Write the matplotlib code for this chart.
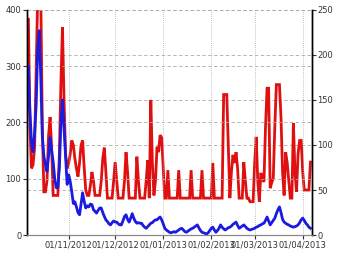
import numpy as np
import pandas as pd
import matplotlib
matplotlib.use('Agg')
import matplotlib.pyplot as plt
import matplotlib.dates as mdates

plt.rcParams['font.family'] = ['Liberation Sans Narrow', 'DejaVu Sans']

# daily values, 5 Oct 2012 onwards
start = '2012-10-05'

# blue series (left axis)
blue = [273, 300, 220, 165, 148, 180, 230, 330, 363, 280,
        175, 140, 125, 113, 140, 173, 150, 130, 100, 84,
        84, 120, 200, 240, 190, 140, 90, 107, 95, 77,
        56, 59, 50, 40, 36, 55, 75, 60, 48, 52,
        50, 55, 54, 45, 42, 39, 44, 48, 48, 40,
        33, 27, 24, 20, 18, 22, 25, 23, 23, 20,
        18, 18, 25, 33, 36, 28, 23, 30, 38, 30,
        24, 21, 22, 21, 21, 17, 14, 12, 15, 18,
        21, 22, 25, 27, 27, 30, 32, 27, 20, 12,
        9, 7, 5, 4, 5, 6, 5, 7, 9, 11,
        12, 9, 6, 5, 7, 9, 11, 12, 14, 16,
        18, 13, 8, 5, 4, 3, 2, 4, 8, 12,
        14, 9, 5, 8, 12, 18, 14, 11, 9, 11,
        13, 14, 16, 19, 21, 23, 17, 12, 14, 16,
        18, 15, 12, 10, 9, 10, 11, 12, 14, 15,
        17, 18, 20, 21, 26, 32, 25, 18, 22, 26,
        30, 38, 45, 50, 40, 28, 23, 21, 19, 18,
        16, 15, 14, 15, 16, 18, 22, 27, 30, 26,
        21, 18, 14, 12]

# red series (right axis)
red = [141, 241, 120, 74, 78, 97, 180, 265, 265, 265,
       120, 48, 48, 60, 110, 131, 97, 44, 44, 44,
       44, 90, 170, 231, 150, 90, 74, 80, 90, 105,
       100, 85, 74, 65, 80, 100, 105, 75, 50, 44,
       44, 55, 70, 60, 44, 44, 44, 44, 60, 85,
       97, 70, 41, 41, 41, 41, 60, 81, 60, 41,
       41, 41, 41, 60, 92, 70, 41, 41, 41, 41,
       41, 87, 60, 41, 41, 41, 41, 60, 83, 41,
       150, 80, 44, 60, 98, 92, 111, 108, 74, 41,
       41, 72, 41, 41, 41, 41, 41, 41, 72, 41,
       41, 41, 41, 41, 41, 41, 72, 41, 41, 41,
       41, 41, 41, 72, 41, 41, 41, 41, 41, 41,
       80, 41, 41, 41, 41, 41, 41, 156, 156, 156,
       100, 41, 70, 89, 80, 92, 74, 41, 41, 41,
       81, 60, 41, 41, 37, 37, 37, 80, 109, 60,
       37, 69, 62, 59, 120, 163, 163, 52, 58, 63,
       120, 167, 167, 167, 130, 70, 44, 92, 80, 60,
       41, 41, 124, 70, 48, 90, 105, 105, 70, 50,
       50, 50, 50, 81]

dates = pd.date_range(start, periods=len(blue), freq='D')

fig = plt.figure(figsize=(3.44, 2.6), dpi=100)
ax = fig.add_axes([0.078, 0.096, 0.829, 0.866])
ax2 = ax.twinx()

ax2.plot(dates, red, color='#e01010', linewidth=2.0, solid_joinstyle='miter')
ax.plot(dates, blue, color='#1a1ae0', linewidth=2.0)

# blue drawn above red
ax.set_zorder(ax2.get_zorder() + 1)
ax.patch.set_visible(False)

ax.set_ylim(0, 400)
ax2.set_ylim(0, 250)
ax.set_yticks([0, 100, 200, 300, 400])
ax2.set_yticks([0, 50, 100, 150, 200, 250])
ax.set_xlim(dates[0], dates[0] + pd.Timedelta(days=184))

ax.xaxis.set_major_locator(mdates.MonthLocator())
ax.xaxis.set_major_formatter(mdates.DateFormatter('%d/%m/%Y'))

for a in (ax, ax2):
    a.tick_params(labelsize=6, length=3, width=0.8, colors='#333333', pad=1)
    a.spines['top'].set_visible(False)
    a.spines['bottom'].set_color('#888888')
    a.spines['left'].set_linewidth(1.0)
    a.spines['right'].set_linewidth(1.0)

ax.grid(True, axis='y', color='#aaaaaa', linestyle=(0, (4, 3)), linewidth=0.6)
ax.grid(True, axis='x', color='#aaaaaa', linestyle=(0, (1, 1.5)), linewidth=0.6)
ax2.grid(True, axis='y', color='#aaaaaa', linestyle=(0, (4, 3)), linewidth=0.6)

fig.savefig('out.png', dpi=100)
